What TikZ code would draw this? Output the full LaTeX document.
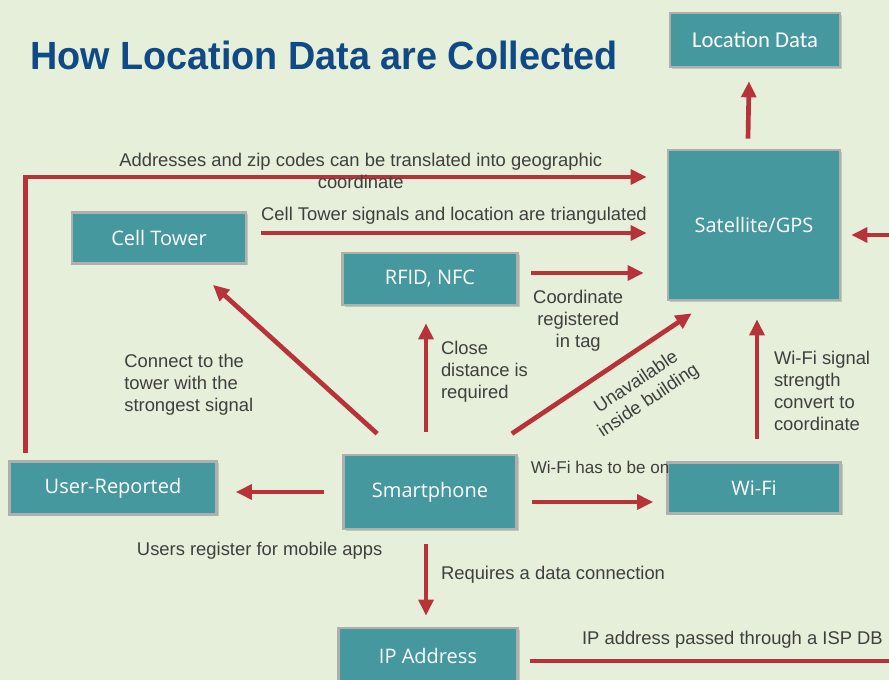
\documentclass[tikz,border=0pt]{standalone}
\usepackage{fontspec}
\setmainfont{Liberation Sans}
\newfontfamily\boxfont{Open Sans}
\newfontfamily\narrowfont{Carlito}
\newfontfamily\headfont[FakeStretch=0.96]{Liberation Sans}
\usepackage{tikz}
\usetikzlibrary{arrows.meta,calc,shadows}
\definecolor{paper}{HTML}{E5EFD9}
\definecolor{boxfill}{HTML}{46989F}
\definecolor{rim}{HTML}{AEB0AD}
\definecolor{flow}{HTML}{B8323A}
\definecolor{ink}{HTML}{3F3F3F}
\definecolor{headline}{HTML}{0F4A86}

\begin{document}
\begin{tikzpicture}[x=0.75pt, y=-0.75pt,
    box/.style={draw=rim, line width=2pt, fill=boxfill, text=white, inner sep=0pt,
                font=\boxfont\fontsize{15}{17}\selectfont,
                drop shadow={shadow xshift=1.5pt, shadow yshift=-1.5pt, opacity=0.35}},
    link/.style={-{Triangle[length=12pt,width=11pt]}, line width=3.5pt, color=flow},
    note/.style={font=\fontsize{13.8}{16.5}\selectfont, text=ink, inner sep=0pt}
  ]
    \fill[paper] (0,0) rectangle (889,680);
    \useasboundingbox (0,0) rectangle (889,680);

    \node[font=\headfont\bfseries\fontsize{29.5}{30}\selectfont, text=headline, anchor=west, inner sep=0pt]
      (title) at (30,55) {How Location Data are Collected};

    \node[box, minimum width=127.5pt, minimum height=40.5pt,
          font=\narrowfont\fontsize{17}{19}\selectfont] (locdata) at (755,40) {Location Data};
    \node[box, minimum width=129pt, minimum height=112.5pt] (sat) at (754,225) {Satellite/GPS};
    \node[box, minimum width=130.5pt, minimum height=38.25pt] (cell) at (159,238) {Cell Tower};
    \node[box, minimum width=131.25pt, minimum height=39pt] (rfid) at (430,279) {RFID, NFC};
    \node[box, minimum width=155.25pt, minimum height=39.75pt] (user) at (113,488) {User-Reported};
    \node[box, minimum width=129.75pt, minimum height=55.5pt] (smart) at (430,492) {Smartphone};
    \node[box, minimum width=129.75pt, minimum height=38.25pt] (wifi) at (754,488) {Wi-Fi};
    \node[box, minimum width=134.25pt, minimum height=42pt] (ip) at (428,656) {IP Address};
    \coordinate (bend) at (905,661);

    \draw[link] ($(sat.north)+(-6,-10)$) -- ($(locdata.south)+(-6,13)$);
    \draw[link] ($(user.north west)+(17,-7)$) |- ($(sat.west)+(-20,-48)$)
      node[note, pos=0.77, align=center, yshift=4.5pt]
      {Addresses and zip codes can be translated into geographic\\coordinate};
    \draw[link] ($(cell.east)+(14,-5)$) -- ($(sat.west)+(-20,8)$)
      node[note, pos=0.5, above=5pt] {Cell Tower signals and location are triangulated};
    \draw[link] ($(rfid.east)+(12,-6)$) -- ($(sat.west)+(-23,48)$)
      node[note, pos=0.42, below=11pt, align=center] {Coordinate\\registered\\in tag};
    \draw[link] ($(smart.north west)+(35,-20)$) -- ($(cell.south)+(54,20)$)
      node[note, pos=0.33, anchor=west, xshift=-150.75pt, align=left]
      {Connect to the\\tower with the\\strongest signal};
    \draw[link] ($(smart.north)+(-4,-22)$) -- ($(rfid.south)+(-4,17)$)
      node[note, pos=0.55, anchor=west, xshift=9.5pt, align=left]
      {Close\\distance is\\required};
    \draw[link] ($(smart.north east)+(-6,-20)$) -- ($(sat.south west)+(25,12)$)
      node[note, pos=0.61, sloped, below=12pt, align=center] {Unavailable\\inside building};
    \draw[link] ($(wifi.north)+(3,-22)$) -- ($(sat.south)+(3,18)$)
      node[note, pos=0.40, anchor=west, xshift=11pt, align=left]
      {Wi-Fi signal\\strength\\convert to\\coordinate};
    \draw[link] ($(smart.east)+(14,10)$) -- ($(wifi.west)+(-13,14)$)
      node[note, font=\fontsize{12.8}{15}\selectfont, pos=0, anchor=west, xshift=-2.5pt, yshift=26pt]
      {Wi-Fi has to be on};
    \draw[link] ($(smart.west)+(-18,0)$) -- ($(user.east)+(18,4)$)
      node[note, pos=0.73, below=36pt] {Users register for mobile apps};
    \draw[link] ($(smart.south)+(-4,14)$) -- ($(ip.north)+(-2,-11)$)
      node[note, pos=0.43, anchor=west, xshift=9.5pt] {Requires a data connection};
    \draw[link] ($(ip.east)+(11,5)$) -- node[note, pos=0.54, above=8pt]
      {IP address passed through a ISP DB} (bend) |- ($(sat.east)+(10,10)$);
  \end{tikzpicture}
\end{document}
